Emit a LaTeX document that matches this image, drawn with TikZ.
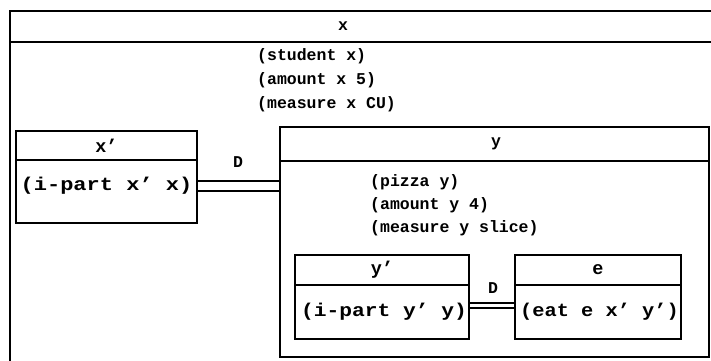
\documentclass[tikz,border=0pt]{standalone}
\usepackage{graphicx}
\usepackage{fontspec}
\setmonofont{Liberation Mono}
\newcommand{\widetxt}[2]{\scalebox{#1}[1]{#2}}
\begin{document}
\begin{tikzpicture}[x=1pt,y=-1pt,
  box/.style={draw, line width=1.6pt, rectangle, inner sep=0pt},
  rule/.style={line width=1.6pt},
  txt/.style={font=\ttfamily\bfseries\fontsize{16.5}{19}\selectfont, inner sep=0pt},
  btxt/.style={font=\ttfamily\bfseries\fontsize{18.5}{22}\selectfont, inner sep=0pt},
  conn/.style={line width=1.5pt}]
\useasboundingbox (0,0) rectangle (711,360);
% outer box (open at right and bottom)
\draw[rule] (10,362) -- (10,11) -- (713,11);
\draw[rule] (10,42) -- (713,42);
\node[txt] (xh) at (343,26) {x};
\node[txt, anchor=west] (s1) at (257,56) {(student x)};
\node[txt, anchor=west] (s2) at (257,80) {(amount x 5)};
\node[txt, anchor=west] (s3) at (257,104) {(measure x CU)};
% x' box
\node[box, minimum width=181pt, minimum height=92pt] (xp) at (106.5,177) {};
\draw[rule] (xp.west |- 0,160) -- (xp.east |- 0,160);
\node[btxt] (xph) at (106.5,146) {x’};
\node[btxt] (xpb) at (106.5,186) {\widetxt{1.19}{(i-part x’ x)}};
% y box
\node[box, minimum width=429pt, minimum height=230pt] (yb) at (494.5,242) {};
\draw[rule] (yb.west |- 0,161) -- (yb.east |- 0,161);
\node[txt] (yh) at (496,144) {y};
\node[txt, anchor=west] (p1) at (370,182) {(pizza y)};
\node[txt, anchor=west] (p2) at (370,205) {(amount y 4)};
\node[txt, anchor=west] (p3) at (370,228) {(measure y slice)};
% y' box
\node[box, minimum width=174pt, minimum height=84pt] (yp) at (382,297) {};
\draw[rule] (yp.west |- 0,285) -- (yp.east |- 0,285);
\node[btxt] (yph) at (382,270) {y’};
\node[btxt] (ypb) at (384,312) {\widetxt{1.15}{(i-part y’ y)}};
% e box
\node[box, minimum width=166pt, minimum height=84pt] (eb) at (598,297) {};
\draw[rule] (eb.west |- 0,285) -- (eb.east |- 0,285);
\node[btxt] (eh) at (598,270) {e};
\node[btxt] (ebb) at (599.5,312) {\widetxt{1.1}{(eat e x’ y’)}};
% D connectors
\draw[conn] ([yshift=-4pt]xp.east) -- ([yshift=-4pt]xp.east -| yb.west);
\draw[conn] ([yshift=-14pt]xp.east) -- ([yshift=-14pt]xp.east -| yb.west);
\node[txt] (d1) at (238,162) {D};
\draw[conn] ([yshift=-6pt]yp.east) -- ([yshift=-6pt]yp.east -| eb.west);
\draw[conn] ([yshift=-11pt]yp.east) -- ([yshift=-11pt]yp.east -| eb.west);
\node[txt] (d2) at (493,288) {D};
\end{tikzpicture}
\end{document}
